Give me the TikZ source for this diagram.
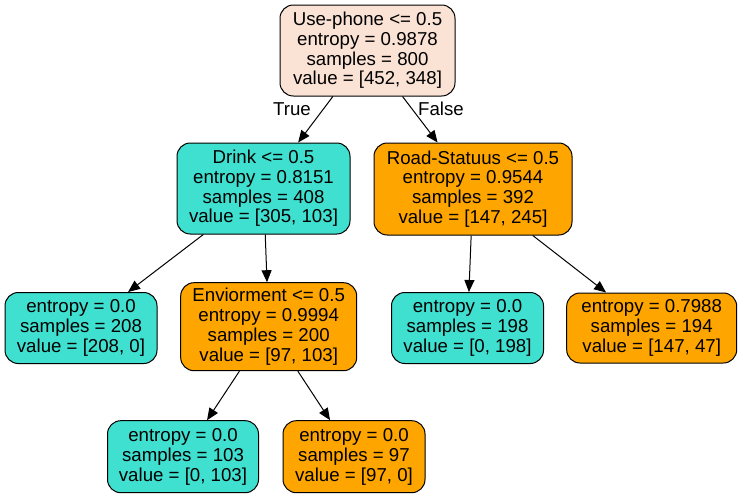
\documentclass[tikz,border=0pt]{standalone}
\usepackage{fontspec}
\setmainfont{Liberation Sans}
\usetikzlibrary{arrows.meta}
\definecolor{rootfill}{RGB}{250,226,213}
\definecolor{turq}{RGB}{64,224,208}
\definecolor{orng}{RGB}{255,165,0}
\tikzset{
  tree/.style={draw=black, line width=0.75pt, rounded corners=10pt, align=center, inner sep=0pt,
    font=\fontsize{14}{14.8}\selectfont},
  edge/.style={line width=0.75pt, -{Triangle[length=9pt,width=7.5pt]}},
  elab/.style={font=\fontsize{14}{14.8}\selectfont, inner sep=0pt}
}
\begin{document}
\begin{tikzpicture}[x=0.75pt,y=-0.75pt]
\useasboundingbox (0,0) rectangle (739,497);
\node[tree, fill=rootfill, minimum width=131.25pt, minimum height=68.25pt] (root) at (367.5,50.5)
  {Use-phone <= 0.5\\entropy = 0.9878\\samples = 800\\value = [452, 348]};
\node[tree, fill=turq, minimum width=129.75pt, minimum height=68.25pt] (drink) at (263.5,188.5)
  {Drink <= 0.5\\entropy = 0.8151\\samples = 408\\value = [305, 103]};
\node[tree, fill=orng, minimum width=148.5pt, minimum height=69pt] (road) at (473,189)
  {Road-Statuus <= 0.5\\entropy = 0.9544\\samples = 392\\value = [147, 245]};
\node[tree, fill=turq, minimum width=114pt, minimum height=53.25pt] (l1) at (81,328)
  {entropy = 0.0\\samples = 208\\value = [208, 0]};
\node[tree, fill=orng, minimum width=132pt, minimum height=66pt] (env) at (268.7,326.7)
  {Enviorment <= 0.5\\entropy = 0.9994\\samples = 200\\value = [97, 103]};
\node[tree, fill=turq, minimum width=114pt, minimum height=53.25pt] (l198) at (467.5,328)
  {entropy = 0.0\\samples = 198\\value = [0, 198]};
\node[tree, fill=orng, minimum width=127.5pt, minimum height=52.5pt] (l194) at (651.7,328)
  {entropy = 0.7988\\samples = 194\\value = [147, 47]};
\node[tree, fill=turq, minimum width=113.25pt, minimum height=54pt] (l103) at (183,456.7)
  {entropy = 0.0\\samples = 103\\value = [0, 103]};
\node[tree, fill=orng, minimum width=106.5pt, minimum height=54pt] (l97) at (354,456.7)
  {entropy = 0.0\\samples = 97\\value = [97, 0]};
\draw[edge] (root) -- (drink);
\draw[edge] (root) -- (road);
\draw[edge] (drink) -- (l1);
\draw[edge] (drink) -- (env);
\draw[edge] (road) -- (l198);
\draw[edge] (road) -- (l194);
\draw[edge] (env) -- (l103);
\draw[edge] (env) -- (l97);
\node[elab] (ltrue) at (292,109) {True};
\node[elab] (lfalse) at (441,109) {False};
\end{tikzpicture}
\end{document}
